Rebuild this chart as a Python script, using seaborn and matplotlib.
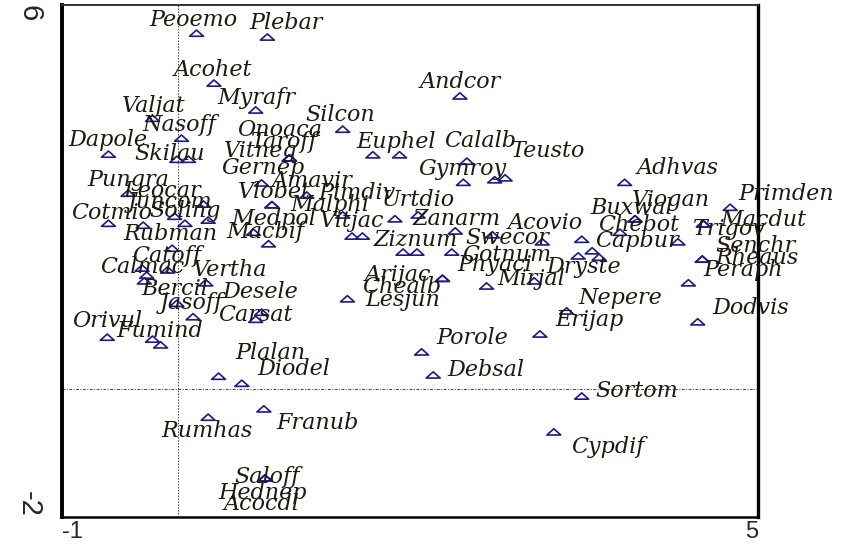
import numpy as np
import pandas as pd
import matplotlib
matplotlib.use('Agg')
import matplotlib.pyplot as plt
from matplotlib.path import Path
import seaborn as sns

# species scores on the first two ordination axes
species = ['Peoemo', 'Plebar', 'Acohet', 'Myrafr', 'Andcor', 'Valjat', 'Nasoff', 'Silcon',
           'Onoaca', 'Taroff', 'Vitneg', 'Dapole', 'Skilau', 'Gernep', 'Pungra', 'Leocar',
           'Juncom', 'Soling', 'Cotmio', 'Rubman', 'Catoff', 'Calmac', 'Vertha', 'Bercil',
           'Desele', 'Jasoff', 'Carsat', 'Orivul', 'Fumind', 'Amavir', 'Vlobet', 'Malphi',
           'Pimdiv', 'Medpol', 'Macbif', 'Vitjac', 'Euphel', 'Calalb', 'Teusto', 'Gymroy',
           'Urtdio', 'Zanarm', 'Acovio', 'Swecor', 'Ziznum', 'Cotnum', 'Phyaci', 'Dryste',
           'Mirjal', 'Capbur', 'Chebot', 'Buxwal', 'Viogan', 'Adhvas', 'Primden', 'Macdut',
           'Trigov', 'Senchr', 'Rheaus', 'Peraph', 'Nepere', 'Dodvis', 'Erijap', 'Arijac',
           'Chealb', 'Lesjun', 'Porole', 'Plalan', 'Diodel', 'Debsal', 'Sortom', 'Rumhas',
           'Franub', 'Cypdif', 'Saloff', 'Hednep', 'Acocdl']
axis1 = [0.16, 0.77, 0.31, 0.67, 2.43, -0.22, 0.03, 1.42,
         0.96, 0.96, 0.96, -0.60, -0.01, 0.72, -0.43, 0.22,
         -0.03, 0.06, -0.60, -0.30, -0.05, -0.31, -0.09, -0.29,
         0.72, -0.01, 0.67, -0.61, -0.22, 1.11, 0.81, 0.81,
         1.42, 0.65, 0.78, 1.50, 1.91, 2.49, 2.82, 2.46,
         2.07, 2.39, 3.14, 2.71, 1.94, 2.36, 3.07, 3.57,
         2.66, 4.31, 3.81, 3.94, 3.94, 3.85, 4.76, 4.53,
         4.53, 4.52, 4.52, 4.40, 3.35, 4.48, 3.12, 2.28,
         2.28, 1.46, 2.10, 0.35, 0.55, 2.20, 3.48, 0.26,
         0.74, 3.24, 0.75, 0.75, 0.75]
axis2 = [5.56, 5.50, 4.78, 4.36, 4.58, 4.23, 3.92, 4.06,
         3.61, 3.61, 3.61, 3.67, 3.59, 3.22, 3.06, 2.89,
         2.70, 2.59, 2.59, 2.56, 2.20, 1.89, 1.86, 1.69,
         1.20, 1.34, 1.09, 0.81, 0.78, 3.03, 2.88, 2.88,
         2.72, 2.45, 2.27, 2.39, 3.66, 3.56, 3.30, 3.23,
         2.72, 2.47, 2.30, 2.41, 2.14, 2.14, 1.69, 2.16,
         1.61, 2.30, 2.45, 2.66, 2.66, 3.23, 2.84, 2.58,
         2.58, 2.03, 2.03, 1.66, 1.22, 1.05, 0.86, 1.73,
         1.73, 1.41, 0.58, 0.20, 0.09, 0.22, -0.11, -0.44,
         -0.31, -0.67, -1.39, -1.39, -1.39]

# species whose names are hidden under other labels
hidden1 = [0.09, 1.68, 2.73, 0.26, 1.87, 1.59, 3.48, 2.06, 3.45, 3.63, -0.27, 0.24, 0.13, -0.15]
hidden2 = [3.59, 3.66, 3.27, 2.64, 2.66, 2.39, 2.34, 2.14, 2.08, 2.06, 1.78, 1.66, 1.13, 0.69]

# label placement relative to the point, in pixels (right, up)
label_shift = {
    'Peoemo': (-3, 13), 'Plebar': (19, 14), 'Acohet': (-1, 13), 'Myrafr': (1, 12),
    'Andcor': (0, 14), 'Valjat': (1, 12), 'Nasoff': (-2, 13), 'Silcon': (-2, 14),
    'Onoaca': (-10, 28), 'Taroff': (-5, 16), 'Vitneg': (-29, 7), 'Dapole': (-1, 14),
    'Skilau': (-7, 5), 'Gernep': (2, 15), 'Pungra': (0, 13), 'Leocar': (-41, 13),
    'Juncom': (-4, 14), 'Soling': (0, 12), 'Cotmio': (3, 10), 'Rubman': (27, -9),
    'Catoff': (-6, -8), 'Calmac': (0, 1), 'Vertha': (63, 0), 'Bercil': (30, -8),
    'Desele': (-1, 20), 'Jasoff': (15, 0), 'Carsat': (0, 4), 'Orivul': (0, 16),
    'Fumind': (7, 8), 'Amavir': (5, 14), 'Vlobet': (2, 13), 'Malphi': (58, 0),
    'Pimdiv': (14, 22), 'Medpol': (20, 13), 'Macbif': (-3, 12), 'Vitjac': (0, 15),
    'Euphel': (-3, 13), 'Calalb': (13, 20), 'Teusto': (43, 27), 'Gymroy': (-1, 13),
    'Urtdio': (0, 15), 'Zanarm': (1, 12), 'Acovio': (3, 19), 'Swecor': (15, -3),
    'Ziznum': (13, 12), 'Cotnum': (55, -3), 'Phyaci': (-39, 16), 'Dryste': (-8, -16),
    'Mirjal': (45, 7), 'Capbur': (-41, 1), 'Chebot': (19, 7), 'Buxwal': (-3, 11),
    'Viogan': (36, 19), 'Adhvas': (53, 14), 'Primden': (56, 13), 'Macdut': (60, 4),
    'Trigov': (26, -5), 'Senchr': (53, 13), 'Rheaus': (55, 1), 'Peraph': (55, 13),
    'Nepere': (54, 13), 'Dodvis': (53, 14), 'Erijap': (50, 14), 'Arijac': (-45, 3),
    'Chealb': (-41, -9), 'Lesjun': (55, -1), 'Porole': (51, 14), 'Plalan': (52, 23),
    'Diodel': (52, 14), 'Debsal': (53, 5), 'Sortom': (55, 5), 'Rumhas': (-1, -14),
    'Franub': (54, -14), 'Cypdif': (54, -15), 'Saloff': (2, 1), 'Hednep': (-2, -15),
    'Acocdl': (-3, -26),
}

df = pd.DataFrame({'species': species, 'ax1': axis1, 'ax2': axis2})
pts = pd.concat([df[['ax1', 'ax2']], pd.DataFrame({'ax1': hidden1, 'ax2': hidden2})])

sns.set_style('white')
navy = '#1b1a86'

fig = plt.figure(figsize=(8.47, 5.48), dpi=100)
ax = fig.add_axes([62 / 847, 31 / 548, 696 / 847, 512 / 548])

tri = Path([(-1, -0.45), (1, -0.45), (0, 0.45), (-1, -0.45)],
           [Path.MOVETO, Path.LINETO, Path.LINETO, Path.CLOSEPOLY])
sns.scatterplot(data=pts, x='ax1', y='ax2', marker=tri, s=100, color=navy,
                facecolor='none', edgecolor=navy, linewidth=1.2, legend=False, ax=ax, zorder=3)

ax.axvline(0, color='#444444', lw=0.7, ls=(0, (1.5, 1.5)), zorder=1)
ax.axhline(0, color='#444444', lw=0.7, ls=(0, (3, 1.5, 1, 1.5)), zorder=1)

for name, x, y in zip(df['species'], df['ax1'], df['ax2']):
    dx, dy = label_shift[name]
    ax.annotate(name, (x, y), xytext=(dx, dy), textcoords='offset pixels',
                ha='center', va='center', fontsize=16, family='DejaVu Serif',
                style='italic', color='#1f1a10', zorder=4)

ax.set_xlim(-1, 5)
ax.set_ylim(-2, 6)
ax.set_xlabel('')
ax.set_ylabel('')

ax.set_xticks(range(-1, 6))
ax.set_xticklabels(['-1', '', '', '', '', '', '5'], fontsize=17, family='Liberation Sans')
ax.set_yticks([-2, 0, 2, 4, 6])
ax.set_yticklabels(['-2', '', '', '', '6'], fontsize=21, family='Liberation Sans', rotation=-90)
xl = ax.get_xticklabels()
xl[0].set_ha('left')
xl[-1].set_ha('right')
yl = ax.get_yticklabels()
yl[0].set_va('bottom')
yl[-1].set_va('top')

ax.tick_params(axis='x', direction='out', length=3, width=2, pad=0, color='black')
ax.tick_params(axis='y', direction='inout', length=7, width=1.1, pad=10, color='black')

ax.spines['left'].set_linewidth(2.8)
ax.spines['right'].set_linewidth(2.4)
ax.spines['bottom'].set_linewidth(1.8)
ax.spines['top'].set_linewidth(1.4)
ax.spines['top'].set_color('#333333')
for s in ['left', 'right', 'bottom']:
    ax.spines[s].set_color('black')

fig.savefig('out.png', dpi=100)
